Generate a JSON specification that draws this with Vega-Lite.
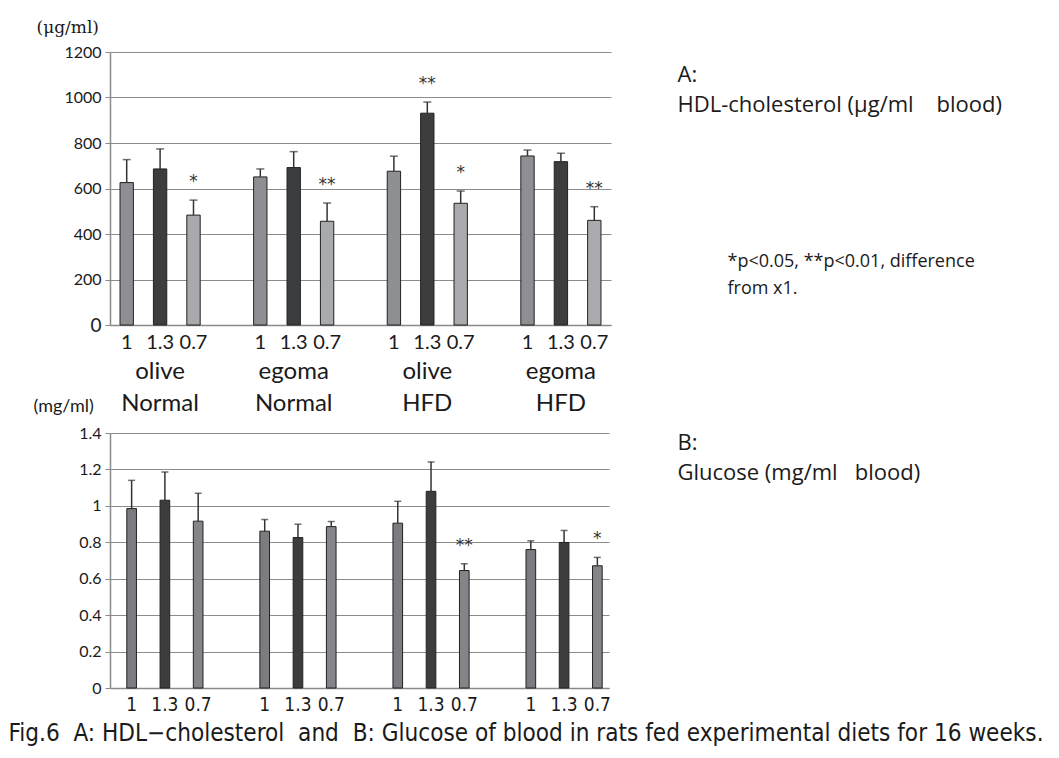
{
  "$schema": "https://vega.github.io/schema/vega-lite/v6.json",
  "padding": {"left": 8, "top": 18, "right": 0, "bottom": 0},
  "background": "white",
  "config": {"view": {"stroke": null}, "font": "Lato", "text": {"font": "Lato"}},
  "datasets": {
    "hdl": [
      {"key": "olive Normal|1", "group": "olive Normal", "dose": "1", "mean": 626, "upper": 727, "sig": ""},
      {"key": "olive Normal|1.3", "group": "olive Normal", "dose": "1.3", "mean": 686, "upper": 774, "sig": ""},
      {"key": "olive Normal|0.7", "group": "olive Normal", "dose": "0.7", "mean": 483, "upper": 549, "sig": "*"},
      {"key": "egoma Normal|1", "group": "egoma Normal", "dose": "1", "mean": 651, "upper": 686, "sig": ""},
      {"key": "egoma Normal|1.3", "group": "egoma Normal", "dose": "1.3", "mean": 692, "upper": 762, "sig": ""},
      {"key": "egoma Normal|0.7", "group": "egoma Normal", "dose": "0.7", "mean": 456, "upper": 536, "sig": "**"},
      {"key": "olive HFD|1", "group": "olive HFD", "dose": "1", "mean": 676, "upper": 742, "sig": ""},
      {"key": "olive HFD|1.3", "group": "olive HFD", "dose": "1.3", "mean": 931, "upper": 980, "sig": "**"},
      {"key": "olive HFD|0.7", "group": "olive HFD", "dose": "0.7", "mean": 535, "upper": 589, "sig": "*"},
      {"key": "egoma HFD|1", "group": "egoma HFD", "dose": "1", "mean": 743, "upper": 769, "sig": ""},
      {"key": "egoma HFD|1.3", "group": "egoma HFD", "dose": "1.3", "mean": 718, "upper": 755, "sig": ""},
      {"key": "egoma HFD|0.7", "group": "egoma HFD", "dose": "0.7", "mean": 460, "upper": 520, "sig": "**"}
    ],
    "glu": [
      {"key": "olive Normal|1", "group": "olive Normal", "dose": "1", "mean": 0.985, "upper": 1.14, "sig": ""},
      {"key": "olive Normal|1.3", "group": "olive Normal", "dose": "1.3", "mean": 1.031, "upper": 1.186, "sig": ""},
      {"key": "olive Normal|0.7", "group": "olive Normal", "dose": "0.7", "mean": 0.916, "upper": 1.069, "sig": ""},
      {"key": "egoma Normal|1", "group": "egoma Normal", "dose": "1", "mean": 0.861, "upper": 0.925, "sig": ""},
      {"key": "egoma Normal|1.3", "group": "egoma Normal", "dose": "1.3", "mean": 0.826, "upper": 0.899, "sig": ""},
      {"key": "egoma Normal|0.7", "group": "egoma Normal", "dose": "0.7", "mean": 0.886, "upper": 0.914, "sig": ""},
      {"key": "olive HFD|1", "group": "olive HFD", "dose": "1", "mean": 0.905, "upper": 1.025, "sig": ""},
      {"key": "olive HFD|1.3", "group": "olive HFD", "dose": "1.3", "mean": 1.08, "upper": 1.241, "sig": ""},
      {"key": "olive HFD|0.7", "group": "olive HFD", "dose": "0.7", "mean": 0.645, "upper": 0.682, "sig": "**"},
      {"key": "egoma HFD|1", "group": "egoma HFD", "dose": "1", "mean": 0.76, "upper": 0.808, "sig": ""},
      {"key": "egoma HFD|1.3", "group": "egoma HFD", "dose": "1.3", "mean": 0.799, "upper": 0.865, "sig": ""},
      {"key": "egoma HFD|0.7", "group": "egoma HFD", "dose": "0.7", "mean": 0.671, "upper": 0.717, "sig": "*"}
    ]
  },
  "vconcat": [
    {
      "width": 501,
      "height": 273,
      "data": {"name": "hdl"},
      "layer": [
        {
          "mark": {"type": "bar", "width": {"band": 0.4}, "stroke": "#222", "strokeWidth": 1},
          "encoding": {
            "x": {"field": "key", "type": "nominal",
              "scale": {"domain": ["olive Normal|1","olive Normal|1.3","olive Normal|0.7","gap1|","egoma Normal|1","egoma Normal|1.3","egoma Normal|0.7","gap2|","olive HFD|1","olive HFD|1.3","olive HFD|0.7","gap3|","egoma HFD|1","egoma HFD|1.3","egoma HFD|0.7"], "paddingInner": 0, "paddingOuter": 0},
              "axis": {"orient": "bottom", "title": null, "labelExpr": "split(datum.value,'|')[1]", "ticks": false, "tickSize": 0, "grid": false, "domainColor": "#8a8a8a", "domainWidth": 1.5, "labelFontSize": 20, "labelPadding": 23, "labelBaseline": "alphabetic", "labelAngle": 0, "labelOverlap": false, "labelColor": "#1a1a1a"}},
            "y": {"field": "mean", "type": "quantitative", "scale": {"domain": [0, 1200]},
              "axis": {"orient": "left", "values": [0, 200, 400, 600, 800, 1000, 1200], "format": "d", "grid": true, "gridColor": "#8c8c8c", "gridWidth": 1.2, "domainColor": "#8a8a8a", "domainWidth": 1.5, "tickColor": "#8a8a8a", "tickSize": 5, "labelPadding": 4, "labelFontSize": {"condition": {"test": "datum.value == 0", "value": 19}, "value": 16}, "labelColor": "#1a1a1a", "title": "(μg/ml)", "titleAngle": 0, "titleX": -74, "titleY": -20, "titleAlign": "left", "titleBaseline": "alphabetic", "titleFont": "DejaVu Serif", "titleFontSize": 17, "titleFontWeight": "normal", "titleColor": "#1a1a1a"}},
            "color": {"field": "dose", "type": "nominal", "scale": {"domain": ["1", "1.3", "0.7"], "range": ["#8e8f92", "#3c3d3f", "#a9aaad"]}, "legend": null}
          }
        },
        {
          "mark": {"type": "rule", "color": "#333333", "strokeWidth": 1.5},
          "encoding": {
            "x": {"field": "key", "type": "nominal",
              "scale": {"domain": ["olive Normal|1","olive Normal|1.3","olive Normal|0.7","gap1|","egoma Normal|1","egoma Normal|1.3","egoma Normal|0.7","gap2|","olive HFD|1","olive HFD|1.3","olive HFD|0.7","gap3|","egoma HFD|1","egoma HFD|1.3","egoma HFD|0.7"], "paddingInner": 0, "paddingOuter": 0},
              "axis": {"orient": "bottom", "title": null, "domain": false, "ticks": false, "tickSize": 0, "grid": false, "labelExpr": "indexof(datum.value,'|1.3') > 0 ? split(split(datum.value,'|')[0],' ') : ''", "labelFontSize": 24, "labelLineHeight": 32, "labelPadding": 53, "labelBaseline": "alphabetic", "labelAngle": 0, "labelOverlap": false, "labelColor": "#1a1a1a"}},
            "y": {"field": "mean", "type": "quantitative", "scale": {"domain": [0, 1200]},
              "axis": {"orient": "right", "domain": false, "ticks": false, "labels": false, "grid": false, "title": ["*p<0.05, **p<0.01, difference", "from x1."], "titleX": 116, "titleY": 214, "titleAlign": "left", "titleBaseline": "alphabetic", "titleAngle": 0, "titleFont": "Open Sans", "titleFontSize": 18, "titleFontWeight": "normal", "titleLineHeight": 27, "titleColor": "#1a1a1a"}},
            "y2": {"field": "upper"}
          }
        },
        {
          "mark": {"type": "tick", "color": "#333333", "thickness": 1.5, "size": 8},
          "encoding": {
            "x": {"field": "key", "type": "nominal",
              "scale": {"domain": ["olive Normal|1","olive Normal|1.3","olive Normal|0.7","gap1|","egoma Normal|1","egoma Normal|1.3","egoma Normal|0.7","gap2|","olive HFD|1","olive HFD|1.3","olive HFD|0.7","gap3|","egoma HFD|1","egoma HFD|1.3","egoma HFD|0.7"], "paddingInner": 0, "paddingOuter": 0},
              "axis": {"orient": "top", "domain": false, "ticks": false, "labels": false, "grid": false, "title": ["A:", "HDL-cholesterol (μg/ml\u00a0\u00a0\u00a0 blood)"], "titleX": 567, "titleY": 29, "titleAlign": "left", "titleBaseline": "alphabetic", "titleAngle": 0, "titleFont": "Open Sans", "titleFontSize": 22, "titleFontWeight": "normal", "titleLineHeight": 30, "titleColor": "#1a1a1a"}},
            "y": {"field": "upper", "type": "quantitative", "scale": {"domain": [0, 1200]}, "axis": null}
          }
        },
        {
          "transform": [{"filter": "datum.sig != ''"}],
          "mark": {"type": "text", "dy": -18, "fontSize": 17, "font": "DejaVu Sans", "fill": "#333333"},
          "encoding": {
            "x": {"field": "key", "type": "nominal",
              "scale": {"domain": ["olive Normal|1","olive Normal|1.3","olive Normal|0.7","gap1|","egoma Normal|1","egoma Normal|1.3","egoma Normal|0.7","gap2|","olive HFD|1","olive HFD|1.3","olive HFD|0.7","gap3|","egoma HFD|1","egoma HFD|1.3","egoma HFD|0.7"], "paddingInner": 0, "paddingOuter": 0}, "axis": null},
            "y": {"field": "upper", "type": "quantitative", "scale": {"domain": [0, 1200]}, "axis": null},
            "text": {"field": "sig"}
          }
        }
      ],
      "resolve": {"axis": {"x": "independent", "y": "independent"}}
    },
    {
      "width": 499,
      "height": 255,
      "data": {"name": "glu"},
      "layer": [
        {
          "mark": {"type": "bar", "width": {"band": 0.29}, "xOffset": 5, "stroke": "#222", "strokeWidth": 1},
          "encoding": {
            "x": {"field": "key", "type": "nominal",
              "scale": {"domain": ["olive Normal|1","olive Normal|1.3","olive Normal|0.7","gap1|","egoma Normal|1","egoma Normal|1.3","egoma Normal|0.7","gap2|","olive HFD|1","olive HFD|1.3","olive HFD|0.7","gap3|","egoma HFD|1","egoma HFD|1.3","egoma HFD|0.7"], "paddingInner": 0, "paddingOuter": 0},
              "axis": {"orient": "bottom", "labelExpr": "split(datum.value,'|')[1]", "ticks": false, "tickSize": 0, "grid": false, "domainColor": "#8a8a8a", "domainWidth": 1.5, "labelFont": "Liberation Sans Narrow, DejaVu Sans Condensed, sans-serif", "labelFontSize": 19, "labelPadding": 22, "labelBaseline": "alphabetic", "labelAngle": 0, "labelOverlap": false, "labelColor": "#1a1a1a", "labelOffset": 5,
                "title": "Fig.6\u00a0 A: HDL−cholesterol\u00a0 and\u00a0 B: Glucose of blood in rats fed experimental diets for 16 weeks.", "titleX": -102, "titleY": 52, "titleAlign": "left", "titleBaseline": "alphabetic", "titleFont": "Liberation Sans Narrow, DejaVu Sans Condensed, sans-serif", "titleFontSize": 24.1, "titleFontWeight": "normal", "titleColor": "#1a1a1a"}},
            "y": {"field": "mean", "type": "quantitative", "scale": {"domain": [0, 1.4]},
              "axis": {"orient": "left", "values": [0, 0.2, 0.4, 0.6, 0.8, 1, 1.2, 1.4], "format": "~g", "grid": true, "gridColor": "#8c8c8c", "gridWidth": 1.2, "domainColor": "#8a8a8a", "domainWidth": 1.5, "tickColor": "#8a8a8a", "tickSize": 5, "labelPadding": 4, "labelFontSize": 16, "labelColor": "#1a1a1a", "title": "(mg/ml)", "titleAngle": 0, "titleX": -77, "titleY": -22, "titleAlign": "left", "titleBaseline": "alphabetic", "titleFontSize": 18, "titleFontWeight": "normal", "titleColor": "#1a1a1a"}},
            "color": {"field": "dose", "type": "nominal", "scale": {"domain": ["1", "1.3", "0.7"], "range": ["#7b7c7f", "#3c3d3f", "#848588"]}, "legend": null}
          }
        },
        {
          "mark": {"type": "rule", "color": "#333333", "strokeWidth": 1.5, "xOffset": 5},
          "encoding": {
            "x": {"field": "key", "type": "nominal",
              "scale": {"domain": ["olive Normal|1","olive Normal|1.3","olive Normal|0.7","gap1|","egoma Normal|1","egoma Normal|1.3","egoma Normal|0.7","gap2|","olive HFD|1","olive HFD|1.3","olive HFD|0.7","gap3|","egoma HFD|1","egoma HFD|1.3","egoma HFD|0.7"], "paddingInner": 0, "paddingOuter": 0},
              "axis": {"orient": "top", "domain": false, "ticks": false, "labels": false, "grid": false, "title": ["B:", "Glucose (mg/ml\u00a0\u00a0 blood)"], "titleX": 567, "titleY": 16, "titleAlign": "left", "titleBaseline": "alphabetic", "titleAngle": 0, "titleFont": "Open Sans", "titleFontSize": 22, "titleFontWeight": "normal", "titleLineHeight": 30, "titleColor": "#1a1a1a"}},
            "y": {"field": "mean", "type": "quantitative", "scale": {"domain": [0, 1.4]}, "axis": null},
            "y2": {"field": "upper"}
          }
        },
        {
          "mark": {"type": "tick", "color": "#333333", "thickness": 1.5, "size": 7, "xOffset": 5},
          "encoding": {
            "x": {"field": "key", "type": "nominal",
              "scale": {"domain": ["olive Normal|1","olive Normal|1.3","olive Normal|0.7","gap1|","egoma Normal|1","egoma Normal|1.3","egoma Normal|0.7","gap2|","olive HFD|1","olive HFD|1.3","olive HFD|0.7","gap3|","egoma HFD|1","egoma HFD|1.3","egoma HFD|0.7"], "paddingInner": 0, "paddingOuter": 0}, "axis": null},
            "y": {"field": "upper", "type": "quantitative", "scale": {"domain": [0, 1.4]}, "axis": null}
          }
        },
        {
          "transform": [{"filter": "datum.sig != ''"}],
          "mark": {"type": "text", "dy": -18, "xOffset": 5, "fontSize": 17, "font": "DejaVu Sans", "fill": "#333333"},
          "encoding": {
            "x": {"field": "key", "type": "nominal",
              "scale": {"domain": ["olive Normal|1","olive Normal|1.3","olive Normal|0.7","gap1|","egoma Normal|1","egoma Normal|1.3","egoma Normal|0.7","gap2|","olive HFD|1","olive HFD|1.3","olive HFD|0.7","gap3|","egoma HFD|1","egoma HFD|1.3","egoma HFD|0.7"], "paddingInner": 0, "paddingOuter": 0}, "axis": null},
            "y": {"field": "upper", "type": "quantitative", "scale": {"domain": [0, 1.4]}, "axis": null},
            "text": {"field": "sig"}
          }
        }
      ],
      "resolve": {"axis": {"x": "independent", "y": "independent"}}
    }
  ],
  "spacing": 108,
  "bounds": "flush",
  "resolve": {"scale": {"color": "independent"}}
}
